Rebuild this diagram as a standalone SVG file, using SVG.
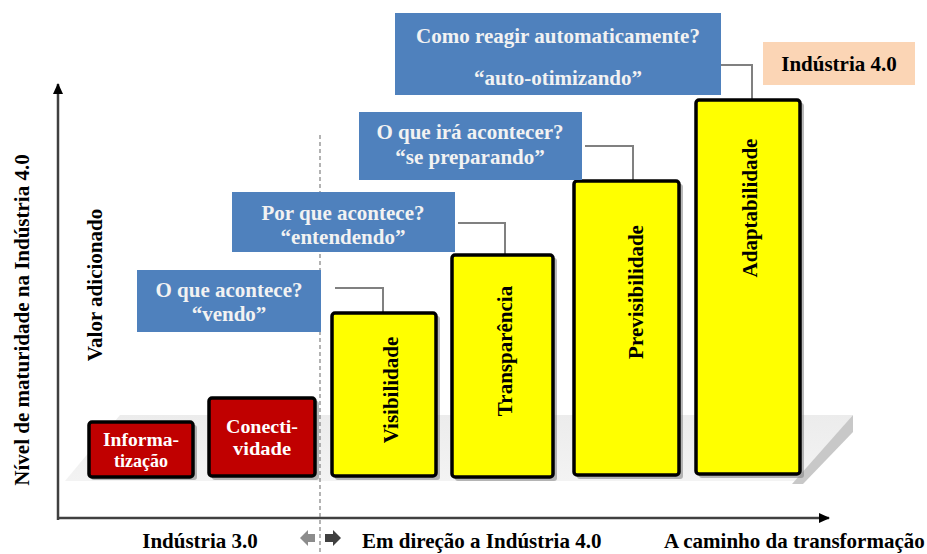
<svg xmlns="http://www.w3.org/2000/svg" width="927" height="554" viewBox="0 0 927 554">
<defs>
<style>
text{font-family:"Liberation Serif","Times New Roman",serif;font-weight:bold}
.q{fill:#f2f2f2;font-size:21px;text-anchor:middle}
.blue{fill:#4f81bd}
.red{fill:#c00000;stroke:#000;stroke-width:3.5}
.yel{fill:#ffff00;stroke:#000;stroke-width:3.5}
.sh{fill:#7f7f7f;opacity:0.55}
.rw{fill:#fff;font-size:18px;text-anchor:middle}
.vt{fill:#000;font-size:21px;text-anchor:middle}
.lbl{fill:#000;font-size:21px}
.conn{fill:none;stroke:#808080;stroke-width:2}
.axis{stroke:#404040;stroke-width:2.5;fill:none}
</style>
<linearGradient id="plat" x1="0" y1="0" x2="0" y2="1">
<stop offset="0" stop-color="#ececec"/>
<stop offset="1" stop-color="#f3f3f3"/>
</linearGradient>
<marker id="ah" markerWidth="12" markerHeight="12" refX="10" refY="6" orient="auto" markerUnits="userSpaceOnUse">
<path d="M0,1 L11,6 L0,11 Z" fill="#000"/>
</marker>
</defs>
<rect width="927" height="554" fill="#fff"/>

<!-- platform -->
<g id="platform">
<polygon points="120,415 853,415 797,481 65,481" fill="url(#plat)"/>
<polygon points="853,415 853,432 803,484 792,484" fill="#c8c8c8"/>
</g>

<!-- axes -->
<g id="axes">
<line class="axis" x1="58" y1="520" x2="58" y2="84" marker-end="url(#ah)"/>
<line class="axis" x1="58" y1="518" x2="829" y2="518" marker-end="url(#ah)"/>
<line x1="320" y1="135" x2="320" y2="554" stroke="#808080" stroke-width="1.2" stroke-dasharray="4,3"/>
<polygon points="300,538 308,530 308,534 315,534 315,542 308,542 308,546" fill="#8c8c8c"/>
<polygon points="341,538 333,530 333,534 325,534 325,542 333,542 333,546" fill="#404040"/>
</g>

<!-- connectors -->
<g id="connectors">
<polyline class="conn" points="721,65 752,65 752,100"/>
<polyline class="conn" points="585,146 633,146 633,181"/>
<polyline class="conn" points="458,223 505,223 505,255"/>
<polyline class="conn" points="335,288 383,288 383,313"/>
</g>

<g id="n-informatizacao">
<rect class="sh" x="91" y="425" width="106" height="55" rx="3"/>
<rect class="red" x="89" y="422" width="104" height="55" rx="3"/>
<text class="rw" x="141" y="446" textLength="76" lengthAdjust="spacingAndGlyphs">Informa-</text>
<text class="rw" x="141" y="467">tização</text>
</g>
<g id="n-conectividade">
<rect class="sh" x="212" y="401" width="107" height="79" rx="3"/>
<rect class="red" x="209" y="398" width="106" height="78" rx="3"/>
<text class="rw" x="262" y="433" textLength="72" lengthAdjust="spacingAndGlyphs">Conecti-</text>
<text class="rw" x="262" y="455" textLength="58" lengthAdjust="spacingAndGlyphs">vidade</text>
</g>
<g id="n-visibilidade">
<rect class="sh" x="335" y="316" width="105" height="164" rx="3"/>
<rect class="yel" x="332" y="313" width="104" height="163" rx="3"/>
<text class="vt" transform="translate(398,390) rotate(-90)">Visibilidade</text>
</g>
<g id="n-transparencia">
<rect class="sh" x="455" y="258" width="102" height="223" rx="3"/>
<rect class="yel" x="452" y="255" width="101" height="222" rx="3"/>
<text class="vt" transform="translate(512,351) rotate(-90)">Transparência</text>
</g>
<g id="n-previsibilidade">
<rect class="sh" x="577" y="184" width="106" height="295" rx="3"/>
<rect class="yel" x="574" y="181" width="105" height="294" rx="3"/>
<text class="vt" transform="translate(643,292) rotate(-90)">Previsibilidade</text>
</g>
<g id="n-adaptabilidade">
<rect class="sh" x="699" y="103" width="105" height="375" rx="3"/>
<rect class="yel" x="696" y="100" width="104" height="374" rx="3"/>
<text class="vt" transform="translate(757,208) rotate(-90)">Adaptabilidade</text>
</g>

<g id="q-como">
<rect class="blue" x="395" y="13" width="326" height="82"/>
<text class="q" x="558" y="43">Como reagir automaticamente?</text>
<text class="q" x="558" y="85">“auto-otimizando”</text>
</g>
<g id="q-ira">
<rect class="blue" x="359" y="112" width="223" height="68"/>
<text class="q" x="470" y="139">O que irá acontecer?</text>
<text class="q" x="470" y="164">“se preparando”</text>
</g>
<g id="q-porque">
<rect class="blue" x="232" y="192" width="223" height="60"/>
<text class="q" x="343" y="220">Por que acontece?</text>
<text class="q" x="343" y="244">“entendendo”</text>
</g>
<g id="q-oque">
<rect class="blue" x="137" y="270" width="184" height="62"/>
<text class="q" x="229" y="297">O que acontece?</text>
<text class="q" x="229" y="321">“vendo”</text>
</g>
<g id="n-industria40">
<rect x="763" y="42" width="152" height="43" fill="#fbd5b5"/>
<text x="839" y="71" font-size="21" fill="#000" text-anchor="middle">Indústria 4.0</text>
</g>

<g id="labels">
<text class="lbl" transform="translate(29,320) rotate(-90)" text-anchor="middle">Nível de maturidade na Indústria 4.0</text>
<text class="lbl" transform="translate(102,285) rotate(-90)" text-anchor="middle">Valor adicionado</text>
<text class="lbl" x="200" y="548" text-anchor="middle">Indústria 3.0</text>
<text class="lbl" x="362" y="548">Em direção a Indústria 4.0</text>
<text class="lbl" x="664" y="548">A caminho da transformação</text>
</g>
</svg>
